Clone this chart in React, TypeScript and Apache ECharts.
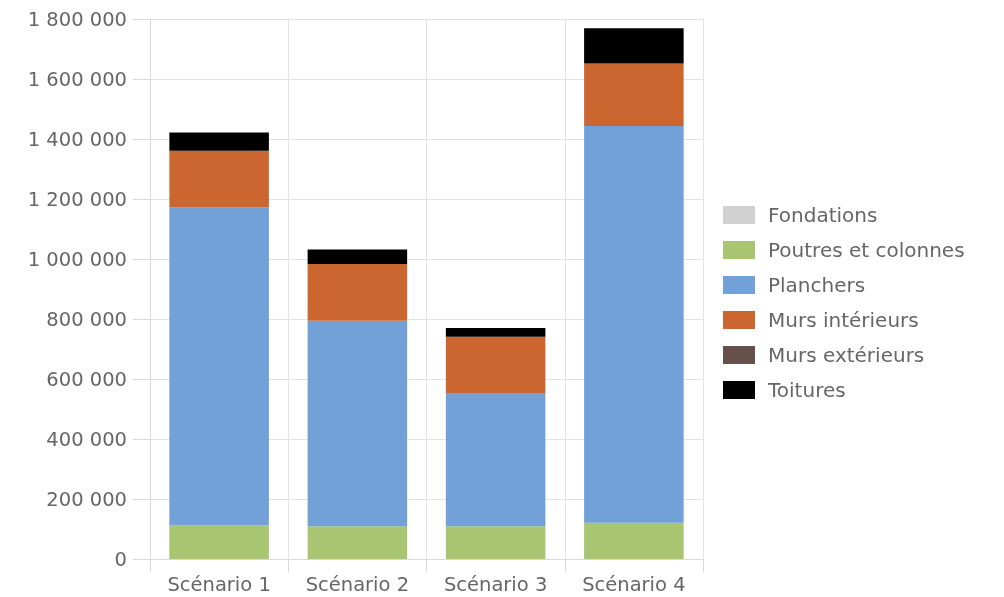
import React, { useEffect, useRef } from "react";
import * as echarts from "echarts";

const categories = ["Scénario 1", "Scénario 2", "Scénario 3", "Scénario 4"];
const seriesNames = ["Fondations", "Poutres et colonnes", "Planchers", "Murs intérieurs", "Murs extérieurs", "Toitures"];
const fondations = [0, 0, 0, 0];
const poutres = [112000, 109000, 109000, 121000];
const planchers = [1060000, 685000, 444000, 1322000];
const mursInterieurs = [189000, 189000, 188000, 209000];
const mursExterieurs = [0, 0, 0, 0];
const toitures = [61000, 49000, 29000, 117000];
const colors = ["#d0d0d0", "#a8c672", "#72a1d8", "#cc6631", "#65514a", "#000000"];

const fmt = (v: number) => String(v).replace(/\B(?=(\d{3})+(?!\d))/g, " ");

export default function App() {
  const ref = useRef<HTMLDivElement>(null);
  useEffect(() => {
    const chart = echarts.init(ref.current!, undefined, { renderer: "svg" });
    const data = [fondations, poutres, planchers, mursInterieurs, mursExterieurs, toitures];
    chart.setOption({
      animation: false,
      textStyle: { fontFamily: "DejaVu Sans, Arial, sans-serif" },
      grid: { left: 150, right: 301, top: 19, bottom: 38, containLabel: false },
      legend: {
        orient: "vertical",
        left: 718,
        top: 200,
        icon: "rect",
        itemWidth: 32,
        itemHeight: 18,
        itemGap: 15,
        data: seriesNames,
        textStyle: { fontSize: 20, color: "#666666", padding: [0, 0, 0, 8] },
      },
      xAxis: {
        type: "category",
        data: categories,
        boundaryGap: true,
        axisLine: { show: true, lineStyle: { color: "#d9d9d9" } },
        axisTick: { show: true, length: 13, lineStyle: { color: "#d9d9d9" } },
        splitLine: { show: true, lineStyle: { color: "#e3e3e3" } },
        axisLabel: { fontSize: 19.5, color: "#666666", margin: 15 },
      },
      yAxis: {
        type: "value",
        min: 0,
        max: 1800000,
        interval: 200000,
        axisLine: { show: true, lineStyle: { color: "#d9d9d9" } },
        axisTick: { show: true, length: 17, lineStyle: { color: "#d9d9d9" } },
        splitLine: { show: true, lineStyle: { color: "#e3e3e3" } },
        axisLabel: { fontSize: 19.5, color: "#666666", margin: 23, formatter: (v: number) => fmt(v) },
      },
      series: seriesNames.map((name, i) => ({
        name,
        type: "bar",
        stack: "total",
        data: data[i],
        barCategoryGap: "28%",
        itemStyle: { color: colors[i] },
      })),
    });
    return () => chart.dispose();
  }, []);
  return <div ref={ref} style={{ width: 1004, height: 597, position: "fixed", left: 0, top: 0 }} />;
}
